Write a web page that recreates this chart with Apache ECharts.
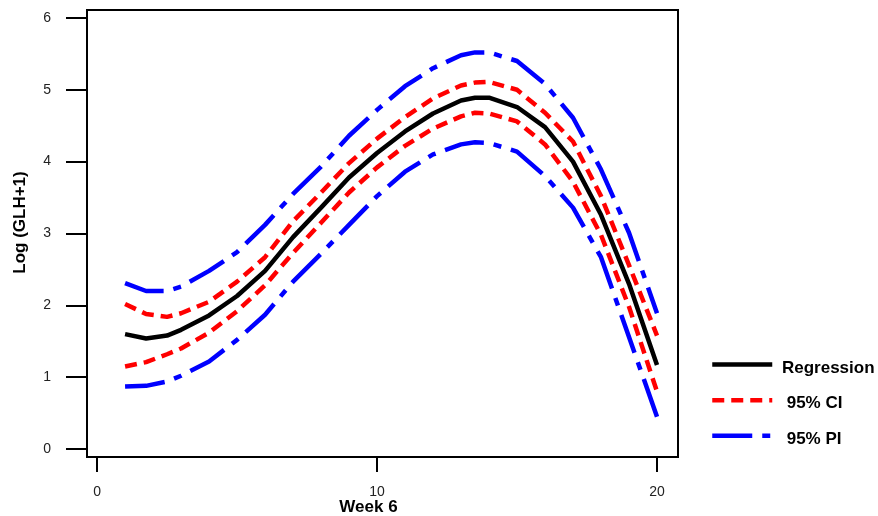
<!DOCTYPE html>
<html>
<head>
<meta charset="utf-8">
<script src="https://cdn.jsdelivr.net/npm/echarts@6/dist/echarts.min.js"></script>
<style>
  html, body { margin: 0; padding: 0; background: #fff; }
  #grafik_glh { width: 878px; height: 516px; }
</style>
</head>
<body>
<div id="grafik_glh"></div>
<script>
// values
var weeks = [1, 1.75, 2.5, 3, 4, 5, 6, 7, 8, 9, 10, 11, 12, 13, 13.5, 14, 15, 16, 17, 18, 19, 20];
var regression = [1.60, 1.54, 1.58, 1.66, 1.86, 2.13, 2.48, 2.95, 3.36, 3.78, 4.12, 4.42, 4.67, 4.85, 4.89, 4.89, 4.76, 4.48, 4.00, 3.26, 2.30, 1.17];
var ciUpper = [2.02, 1.88, 1.84, 1.89, 2.05, 2.33, 2.67, 3.17, 3.57, 3.98, 4.32, 4.62, 4.88, 5.06, 5.10, 5.11, 5.00, 4.68, 4.28, 3.52, 2.56, 1.58];
var ciLower = [1.15, 1.21, 1.32, 1.40, 1.62, 1.92, 2.28, 2.73, 3.15, 3.57, 3.92, 4.22, 4.46, 4.63, 4.68, 4.67, 4.56, 4.24, 3.72, 2.98, 1.98, 0.80];
var piUpper = [2.31, 2.20, 2.20, 2.26, 2.48, 2.74, 3.12, 3.55, 3.93, 4.36, 4.72, 5.05, 5.30, 5.48, 5.52, 5.52, 5.40, 5.08, 4.61, 3.89, 3.01, 1.89];
var piLower = [0.87, 0.88, 0.94, 1.02, 1.22, 1.52, 1.87, 2.33, 2.72, 3.12, 3.52, 3.86, 4.10, 4.24, 4.27, 4.26, 4.14, 3.80, 3.36, 2.67, 1.56, 0.45];

var xTicks = [0, 10, 20];
var yTicks = [0, 1, 2, 3, 4, 5, 6];

var myChart = echarts.init(document.getElementById('grafik_glh'));

var ciDash = [12, 7];
var piDash = [40, 10, 8, 10];

function pairs(ys) {
  return weeks.map(function (w, i) { return [w, ys[i]]; });
}

function line(name, ys, color, type) {
  return {
    name: name,
    type: 'line',
    symbol: 'none',
    data: pairs(ys),
    lineStyle: { color: color, width: 4.5, type: type, cap: 'butt' },
    itemStyle: { color: color }
  };
}

var tickFont = 'Liberation Sans Narrow, Arial Narrow, Liberation Sans, sans-serif';

var option = {
  animation: false,
  textStyle: { fontFamily: 'Liberation Sans, Arial, sans-serif' },
  grid: {
    left: 87, right: 200, top: 10, bottom: 59,
    outerBoundsMode: 'none',
    show: true, borderColor: '#000', borderWidth: 2, backgroundColor: '#fff'
  },
  legend: {
    data: [
      { name: 'Regression', lineStyle: { width: 4.5, type: 'solid' } },
      { name: '95% CI', lineStyle: { width: 4.5, type: ciDash } },
      { name: '95% PI', lineStyle: { width: 4.5, type: piDash } }
    ],
    orient: 'vertical',
    left: 705,
    top: 354,
    itemWidth: 60,
    itemHeight: 14,
    itemGap: 18,
    itemStyle: { opacity: 0 },
    formatter: function (n) {
      return n === 'Regression' ? '{t| ' + n + '}' : '{t|  ' + n + '}';
    },
    textStyle: {
      fontSize: 17, fontWeight: 'bold', color: '#000',
      rich: { t: { fontSize: 17, fontWeight: 'bold', color: '#000', padding: [7, 0, 0, 0] } }
    }
  },
  xAxis: {
    type: 'value',
    min: -0.36,
    max: 20.75,
    name: 'Week 6',
    nameLocation: 'middle',
    nameGap: 42,
    nameMoveOverlap: false,
    nameTextStyle: { fontSize: 17, fontWeight: 'bold', color: '#000', padding: [0, 28, 0, 0] },
    axisLine: { show: false, onZero: false },
    axisTick: { show: true, length: 15, customValues: xTicks, lineStyle: { color: '#000', width: 2 } },
    axisLabel: { customValues: xTicks, fontSize: 14, fontFamily: tickFont, color: '#222', margin: 28 },
    splitLine: { show: false }
  },
  yAxis: {
    type: 'value',
    min: -0.11,
    max: 6.11,
    name: 'Log (GLH+1)',
    nameLocation: 'middle',
    nameGap: 58,
    nameMoveOverlap: false,
    nameTextStyle: { fontSize: 17, fontWeight: 'bold', color: '#000', padding: [0, 0, 0, 22] },
    axisLine: { show: false, onZero: false },
    axisTick: { show: true, length: 21, customValues: yTicks, lineStyle: { color: '#000', width: 2 } },
    axisLabel: { customValues: yTicks, fontSize: 14, fontFamily: tickFont, color: '#222', margin: 36 },
    splitLine: { show: false }
  },
  series: [
    line('95% PI', piUpper, '#0000ff', piDash),
    line('95% PI', piLower, '#0000ff', piDash),
    line('95% CI', ciUpper, '#ff0000', ciDash),
    line('95% CI', ciLower, '#ff0000', ciDash),
    line('Regression', regression, '#000000', 'solid')
  ]
};

myChart.setOption(option);
</script>
</body>
</html>
